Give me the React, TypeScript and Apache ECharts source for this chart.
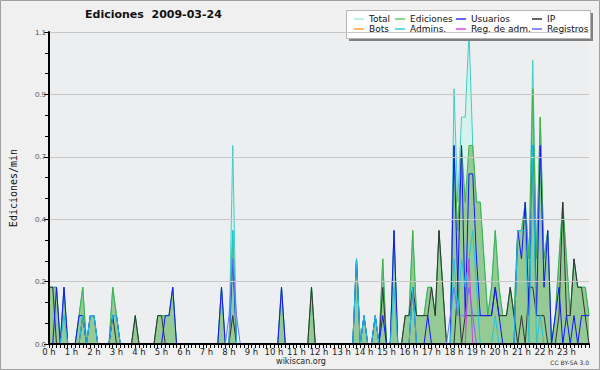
import React, { useEffect, useRef } from "react";
import * as echarts from "echarts";

// 10-minute samples, edits per minute (145 samples: 0 h .. 24 h)
const STEP_MINUTES = 10;

const total = [
  0.2,0.2,0.2,0,0.2,0,0,0,0.1,0.2,0,0.1,
  0.1,0,0,0,0,0.2,0.1,0,0,0,0,0.1,
  0,0,0,0,0,0.1,0.1,0.1,0.1,0.2,0,0,
  0,0,0,0,0,0,0,0,0,0,0.2,0,
  0,0.7,0,0,0,0,0,0,0,0,0,0,
  0,0,0.2,0,0,0,0,0,0,0,0.2,0,
  0,0,0,0,0,0,0,0,0,0,0.3,0,
  0.1,0,0,0.1,0,0.3,0,0,0.4,0,0,0.1,
  0.1,0.4,0.1,0.1,0.1,0.2,0.2,0.1,0.4,0.2,0,0,
  0.9,0.5,0.8,0.8,1.1,0.7,0.5,0.5,0.3,0.1,0.2,0.4,
  0.2,0.1,0.1,0.2,0.1,0.4,0.4,0.5,0.3,1.0,0.3,0.8,
  0.3,0.4,0,0.1,0.3,0.5,0.3,0.1,0.3,0.2,0.2,0.2,0.1,
];

const ediciones = [
  0.2,0.2,0.2,0,0.2,0,0,0,0.1,0.2,0,0.1,
  0.1,0,0,0,0,0.2,0.1,0,0,0,0,0.1,
  0,0,0,0,0,0.1,0.1,0.1,0.1,0.2,0,0,
  0,0,0,0,0,0,0,0,0,0,0.2,0,
  0,0.4,0,0,0,0,0,0,0,0,0,0,
  0,0,0.2,0,0,0,0,0,0,0,0.2,0,
  0,0,0,0,0,0,0,0,0,0,0.3,0,
  0.1,0,0,0.1,0,0.3,0,0,0.4,0,0,0.1,
  0.1,0.4,0.1,0.1,0.1,0.2,0.2,0.1,0.4,0.2,0,0,
  0.7,0.4,0.7,0.5,0.7,0.7,0.5,0.5,0.3,0.1,0.2,0.4,
  0.2,0.1,0.1,0.2,0.1,0.4,0.4,0.5,0.3,0.9,0.3,0.8,
  0.3,0.4,0,0.1,0.3,0.5,0.3,0.1,0.3,0.2,0.2,0.2,0.1,
];

const usuarios = [
  0,0,0.2,0,0.2,0,0,0,0.1,0.1,0,0.1,
  0.1,0,0,0,0,0.1,0.1,0,0,0,0,0,
  0,0,0,0,0,0,0,0.1,0.1,0.2,0,0,
  0,0,0,0,0,0,0,0,0,0,0.2,0,
  0,0.3,0,0,0,0,0,0,0,0,0,0,
  0,0,0.2,0,0,0,0,0,0,0,0,0,
  0,0,0,0,0,0,0,0,0,0,0.3,0,
  0.1,0,0,0.1,0,0.1,0,0,0.4,0,0,0,
  0,0.2,0,0,0,0.1,0,0,0,0,0,0,
  0.7,0.2,0.7,0.1,0.6,0.6,0.3,0.1,0.1,0.1,0.1,0.2,
  0.1,0,0,0,0,0.4,0.3,0.5,0.1,0.7,0.1,0.7,
  0.2,0.4,0,0.1,0.2,0,0.1,0,0.1,0,0.1,0.1,0.1,
];

const ip = [
  0.2,0.2,0,0,0,0,0,0,0,0.1,0,0,
  0,0,0,0,0,0.1,0,0,0,0,0,0.1,
  0,0,0,0,0,0.1,0.1,0,0,0,0,0,
  0,0,0,0,0,0,0,0,0,0,0,0,
  0,0.1,0,0,0,0,0,0,0,0,0,0,
  0,0,0,0,0,0,0,0,0,0,0.2,0,
  0,0,0,0,0,0,0,0,0,0,0,0,
  0,0,0,0,0,0.2,0,0,0,0,0,0.1,
  0.1,0.2,0.1,0.1,0.1,0.1,0.2,0.1,0.4,0.2,0,0,
  0,0.2,0,0.1,0.1,0.1,0.1,0.1,0.1,0.1,0.1,0.2,
  0.1,0.1,0.1,0.2,0.1,0,0.1,0,0.2,0.2,0.1,0.1,
  0.1,0,0,0,0.1,0.5,0.1,0.1,0.3,0.2,0.2,0.1,0,
];

const admins = [
  0,0,0,0,0.1,0,0,0,0,0.1,0,0.1,
  0.1,0,0,0,0,0.1,0.1,0,0,0,0,0,
  0,0,0,0,0,0,0,0,0,0,0,0,
  0,0,0,0,0,0,0,0,0,0,0,0,
  0,0.4,0,0,0,0,0,0,0,0,0,0,
  0,0,0,0,0,0,0,0,0,0,0,0,
  0,0,0,0,0,0,0,0,0,0,0.3,0,
  0.1,0,0,0.1,0,0,0,0,0.2,0,0,0,
  0,0.2,0,0,0,0,0,0,0,0,0,0,
  0.3,0.1,0.3,0.2,0.3,0.4,0.2,0,0,0,0,0.1,
  0,0,0,0,0,0.4,0.4,0.4,0,0.7,0,0.1,
  0,0,0,0,0,0,0,0,0,0,0,0,0,
];

const registros = [
  0,0,0,0,0,0,0,0,0,0,0,0,
  0,0,0,0,0,0,0,0,0,0,0,0,
  0,0,0,0,0,0,0,0,0,0,0,0,
  0,0,0,0,0,0,0,0,0,0,0,0,
  0.1,0.3,0.1,0,0,0,0,0,0,0,0,0,
  0,0,0,0,0,0,0,0,0,0,0,0,
  0,0,0,0,0,0,0,0,0,0,0,0,
  0,0,0,0,0,0,0,0,0,0,0,0,
  0,0,0,0,0,0,0,0,0,0,0,0.1,
  0.2,0.1,0.1,0.1,0.2,0.1,0,0,0,0,0,0,
  0,0,0,0,0,0,0,0,0,0,0,0,
  0,0,0,0,0,0,0,0,0,0,0,0,0,
];

const regAdm = [
  0,0,0,0,0,0,0,0,0,0,0,0,
  0,0,0,0,0,0,0,0,0,0,0,0,
  0,0,0,0,0,0,0,0,0,0,0,0,
  0,0,0,0,0,0,0,0,0,0,0,0,
  0,0,0,0,0,0,0,0,0,0,0,0,
  0,0,0,0,0,0,0,0,0,0,0,0,
  0,0,0,0,0,0,0,0,0,0,0,0,
  0,0,0,0,0,0,0,0,0,0,0,0,
  0,0,0,0,0,0,0,0,0,0,0,0,
  0,0,0,0,0.3,0,0,0,0,0,0,0,
  0,0,0,0,0,0,0,0,0,0,0,0,
  0,0,0,0,0,0,0,0,0,0,0,0,0,
];

const bots = [
  0,0,0,0,0,0,0,0,0,0,0,0,
  0,0,0,0,0,0,0,0,0,0,0,0,
  0,0,0,0,0,0,0,0,0,0,0,0,
  0,0,0,0,0,0,0,0,0,0,0,0,
  0,0,0,0,0,0,0,0,0,0,0,0,
  0,0,0,0,0,0,0,0,0,0,0,0,
  0,0,0,0,0,0,0,0,0,0,0,0,
  0,0,0,0,0,0,0,0,0,0,0,0,
  0,0,0,0,0,0,0,0,0,0,0,0,
  0,0,0,0,0,0,0,0,0,0,0,0,
  0,0,0,0,0,0,0,0,0,0,0,0,
  0,0,0,0,0,0,0,0,0,0,0,0,0,
];

const legendColumns = [
  ["Total", "Bots"],
  ["Ediciones", "Admins."],
  ["Usuarios", "Reg. de adm."],
  ["IP", "Registros"],
];

const legendColors: Record<string, string> = {
  Total: "#a6ece3",
  Bots: "#ffa040",
  Ediciones: "#66cc66",
  "Admins.": "#33ccdd",
  Usuarios: "#3333ff",
  "Reg. de adm.": "#dd44ee",
  IP: "#333333",
  Registros: "#6666ff",
};

const TITLE = "Ediciones  2009-03-24";
const Y_NAME = "Ediciones/min";

export default function App() {
  const ref = useRef<HTMLDivElement>(null);

  useEffect(() => {
    document.body.style.margin = "0";
    const chart = echarts.init(ref.current!, null, { renderer: "svg" });
    const times = total.map((_, i) => (i * STEP_MINUTES) / 60);
    const pts = (arr: number[]) => arr.map((v, i) => [times[i], v]);

    const lineSeries = (name: string, arr: number[], color: string, extra: any = {}) => ({
      name,
      type: "line",
      data: pts(arr),
      symbol: "none",
      smooth: false,
      itemStyle: { color: legendColors[name] },
      lineStyle: { color, width: 1 },
      emphasis: { disabled: true },
      ...extra,
    });

    const legendLefts = [354, 395, 456, 532];

    const option: any = {
      animation: false,
      backgroundColor: "#f0f0f0",
      title: {
        text: TITLE,
        left: 80,
        top: 4,
        textStyle: { fontFamily: "DejaVu Sans", fontWeight: "bold", fontSize: 11, color: "#111" },
      },
      legend: legendColumns.map((col, k) => ({
        left: legendLefts[k],
        top: 14,
        padding: 0,
        orient: "vertical",
        itemGap: 0,
        itemWidth: 10,
        itemHeight: 1.5,
        icon: "rect",
        selectedMode: false,
        z: 6,
        textStyle: { fontFamily: "DejaVu Sans", fontSize: 9, color: "#111", lineHeight: 10 },
        data: col.map((n) => ({ name: n, itemStyle: { color: legendColors[n] } })),
      })),
      grid: {
        left: 46,
        right: 11,
        top: 32,
        bottom: 26,
        show: true,
        backgroundColor: "#eceef0",
        borderWidth: 0,
      },
      xAxis: {
        type: "value",
        min: 0,
        max: 24,
        interval: 1,
        z: 10,
        axisLine: { show: true, onZero: false, lineStyle: { color: "#000", width: 2 } },
        axisTick: { show: true, length: 4, lineStyle: { color: "#000" } },
        minorTick: { show: true, splitNumber: 6, length: 4, lineStyle: { color: "#000" } },
        splitLine: { show: false },
        axisLabel: {
          showMaxLabel: false,
          margin: 3,
          fontFamily: "DejaVu Sans",
          fontSize: 8.5,
          color: "#222",
          formatter: (v: number) => `${v} h`,
        },
      },
      yAxis: {
        type: "value",
        min: 0,
        max: 1.1,
        interval: 0.22,
        z: 10,
        name: Y_NAME,
        nameLocation: "middle",
        nameGap: 31,
        nameTextStyle: { fontFamily: "DejaVu Sans Mono", fontSize: 10, color: "#111" },
        axisLine: { show: true, lineStyle: { color: "#000", width: 2 } },
        axisTick: { show: true, length: 5, lineStyle: { color: "#000" } },
        minorTick: { show: true, splitNumber: 3, length: 4, lineStyle: { color: "#000" } },
        splitLine: { show: true, lineStyle: { color: "#c8c8c8", width: 1 } },
        axisLabel: {
          margin: 3,
          fontFamily: "Liberation Sans",
          fontSize: 8,
          color: "#555",
          padding: [0, 0, 7, 0],
          formatter: (v: number) => v.toFixed(1),
        },
      },
      series: [
        lineSeries("Total", total, "#3ccfc6", { areaStyle: { color: "#d3f3ec", opacity: 1 } }),
        lineSeries("Ediciones", ediciones, "#44b044", { areaStyle: { color: "#95ca95", opacity: 1 } }),
        lineSeries("IP", ip, "#333333"),
        lineSeries("Usuarios", usuarios, "#1414ff"),
        lineSeries("Admins.", admins, "#22c4dc"),
        lineSeries("Registros", registros, "#7070ff"),
        lineSeries("Reg. de adm.", regAdm, "#d040e0"),
        lineSeries("Bots", bots, "#ffa030"),
      ],
      graphic: [
        {
          type: "rect",
          z: 0,
          silent: true,
          shape: { x: 0.5, y: 0.5, width: 599, height: 369 },
          style: { fill: "none", stroke: "#a0a0a0", lineWidth: 1 },
        },
        {
          type: "rect",
          z: 4,
          silent: true,
          shape: { x: 349, y: 13, width: 244, height: 28 },
          style: { fill: "#808080" },
        },
        {
          type: "rect",
          z: 4,
          silent: true,
          shape: { x: 346.5, y: 10.5, width: 244, height: 28 },
          style: { fill: "#ffffff", stroke: "#b4b4b4", lineWidth: 1 },
        },
        {
          type: "text",
          z: 5,
          x: 301,
          y: 361,
          style: {
            text: "wikiscan.org",
            fill: "#222",
            font: "8px 'DejaVu Sans'",
            textAlign: "center",
            textVerticalAlign: "middle",
          },
        },
        {
          type: "text",
          z: 5,
          x: 589,
          y: 362,
          style: {
            text: "CC BY-SA 3.0",
            fill: "#333",
            font: "6px 'DejaVu Sans'",
            textAlign: "right",
            textVerticalAlign: "middle",
          },
        },
      ],
    };

    chart.setOption(option);
    return () => chart.dispose();
  }, []);

  return <div ref={ref} style={{ width: 600, height: 370 }} />;
}
